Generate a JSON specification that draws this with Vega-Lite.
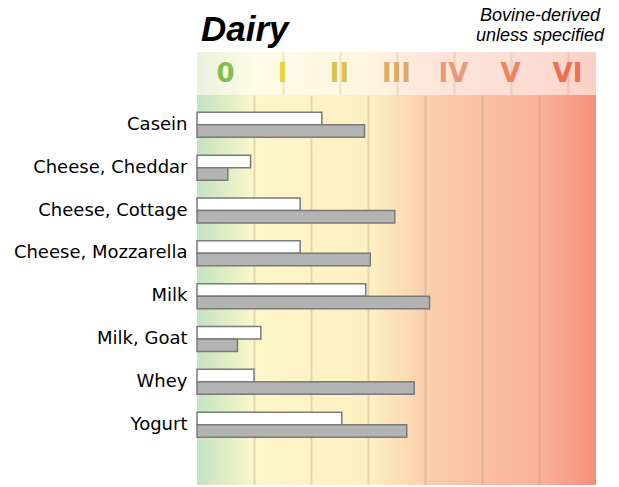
{
  "$schema": "https://vega.github.io/schema/vega-lite/v6.json",
  "padding": {"left": 13, "top": 7, "right": 0, "bottom": 0},
  "background": "white",
  "config": {"view": {"stroke": null}, "font": "Liberation Sans"},
  "title": {"text": "Dairy", "anchor": "start", "frame": "group", "fontSize": 35, "fontStyle": "italic", "fontWeight": "bold", "font": "Liberation Sans", "color": "black", "dx": 4, "dy": 41, "offset": 0},
  "spacing": 0,
  "vconcat": [
    {
      "width": 399,
      "height": 43,
      "view": {"stroke": null, "fill": {"gradient": "linear", "stops": [
        {"offset": 0, "color": "#e9f2de"},
        {"offset": 0.143, "color": "#fefbe6"},
        {"offset": 0.43, "color": "#fef6e1"},
        {"offset": 0.57, "color": "#fde6da"},
        {"offset": 0.86, "color": "#fcdbd2"},
        {"offset": 1, "color": "#fad0c6"}
      ]}},
      "title": {"text": ["Bovine-derived", "unless specified"], "anchor": "end", "align": "center", "dx": -56, "fontSize": 18, "fontStyle": "italic", "fontWeight": "normal", "lineHeight": 20, "offset": 7, "color": "black", "font": "Liberation Sans"},
      "data": {"values": [
        {"level": "0"}, {"level": "I"}, {"level": "II"}, {"level": "III"}, {"level": "IV"}, {"level": "V"}, {"level": "VI"}
      ]},
      "mark": {"type": "text", "font": "DejaVu Sans", "fontWeight": "bold", "fontSize": 26},
      "encoding": {
        "x": {"field": "level", "type": "ordinal", "sort": null,
          "scale": {"domain": ["0", "I", "II", "III", "IV", "V", "VI"], "paddingInner": 0, "paddingOuter": 0},
          "axis": {"values": ["I", "II", "III", "IV", "V", "VI"], "bandPosition": 0, "labels": false, "ticks": false, "domain": false, "title": null, "grid": true, "gridColor": "#a08060", "gridOpacity": 0.18, "gridWidth": 2}},
        "text": {"field": "level", "type": "nominal"},
        "color": {"field": "level", "type": "ordinal", "sort": null,
          "scale": {"domain": ["0", "I", "II", "III", "IV", "V", "VI"], "range": ["#84bd4a", "#e8d23a", "#dcc24c", "#dcaa62", "#e99a7a", "#ee8262", "#ee6e52"]},
          "legend": null}
      }
    },
    {
      "width": 399,
      "height": 390,
      "view": {"stroke": null, "fill": {"gradient": "linear", "stops": [
        {"offset": 0, "color": "#c4e3c0"},
        {"offset": 0.09, "color": "#e6efc6"},
        {"offset": 0.143, "color": "#fcf6c9"},
        {"offset": 0.43, "color": "#fdf0c2"},
        {"offset": 0.52, "color": "#fcdcb5"},
        {"offset": 0.57, "color": "#fccfae"},
        {"offset": 0.71, "color": "#fbbfa4"},
        {"offset": 0.86, "color": "#fab29b"},
        {"offset": 1, "color": "#f5907a"}
      ]}},
      "data": {"values": [
        {"food": "Casein", "series": "A", "value": 2.19},
        {"food": "Casein", "series": "B", "value": 2.94},
        {"food": "Cheese, Cheddar", "series": "A", "value": 0.94},
        {"food": "Cheese, Cheddar", "series": "B", "value": 0.54},
        {"food": "Cheese, Cottage", "series": "A", "value": 1.81},
        {"food": "Cheese, Cottage", "series": "B", "value": 3.47},
        {"food": "Cheese, Mozzarella", "series": "A", "value": 1.81},
        {"food": "Cheese, Mozzarella", "series": "B", "value": 3.04},
        {"food": "Milk", "series": "A", "value": 2.96},
        {"food": "Milk", "series": "B", "value": 4.08},
        {"food": "Milk, Goat", "series": "A", "value": 1.12},
        {"food": "Milk, Goat", "series": "B", "value": 0.71},
        {"food": "Whey", "series": "A", "value": 1.0},
        {"food": "Whey", "series": "B", "value": 3.81},
        {"food": "Yogurt", "series": "A", "value": 2.54},
        {"food": "Yogurt", "series": "B", "value": 3.68}
      ]},
      "mark": {"type": "bar", "stroke": "#7a7a7a", "strokeWidth": 1.5},
      "encoding": {
        "y": {"field": "food", "type": "nominal", "sort": null,
          "scale": {"paddingInner": 0.416, "paddingOuter": 0.76, "align": 0.266},
          "axis": {"title": null, "ticks": false, "domain": false, "labelPadding": 10, "labelFont": "DejaVu Sans", "labelFontSize": 18, "labelColor": "black"}},
        "yOffset": {"field": "series", "type": "nominal", "scale": {"paddingInner": 0, "paddingOuter": 0}},
        "x": {"field": "value", "type": "quantitative",
          "scale": {"domain": [0, 7], "nice": false, "zero": true},
          "axis": {"values": [1, 2, 3, 4, 5, 6], "labels": false, "ticks": false, "domain": false, "title": null, "grid": true, "gridColor": "#a08060", "gridOpacity": 0.25, "gridWidth": 2}},
        "fill": {"field": "series", "type": "nominal",
          "scale": {"domain": ["A", "B"], "range": ["#ffffff", "#b3b3b3"]}, "legend": null}
      }
    }
  ]
}
